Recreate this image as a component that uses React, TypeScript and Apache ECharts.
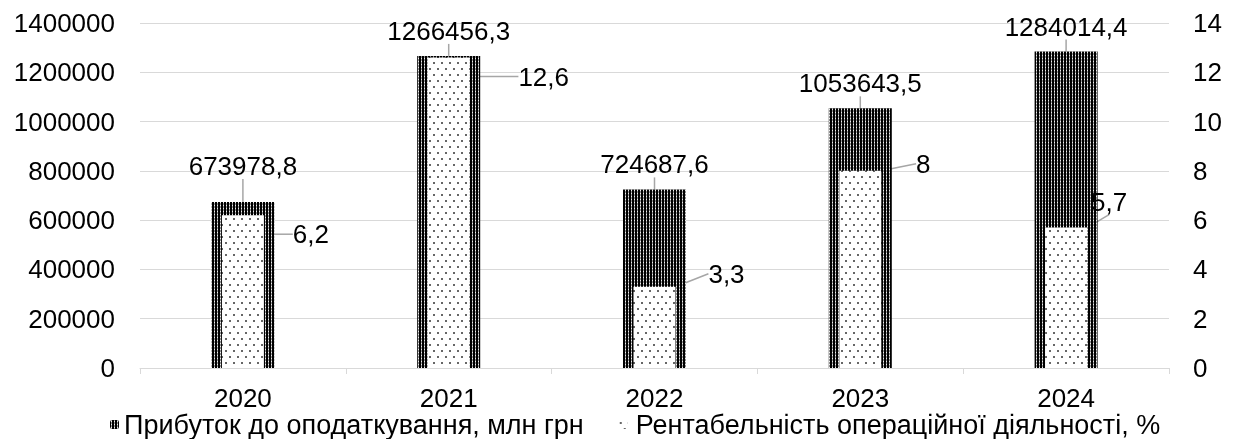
import React, { useEffect, useRef } from "react";
import * as echarts from "echarts";

const categories = ["2020", "2021", "2022", "2023", "2024"];
const profit = [673978.8, 1266456.3, 724687.6, 1053643.5, 1284014.4];
const profitability = [6.2, 12.6, 3.3, 8, 5.7];
const profitLabels = ["673978,8", "1266456,3", "724687,6", "1053643,5", "1284014,4"];
const profitabilityLabels = ["6,2", "12,6", "3,3", "8", "5,7"];
const leftTicks = [0, 200000, 400000, 600000, 800000, 1000000, 1200000, 1400000];
const rightTicks = [0, 2, 4, 6, 8, 10, 12, 14];

const profitName = "Прибуток до оподаткування, млн грн";
const profitabilityName = "Рентабельність операційної діяльності, %";

// label offsets (pixels) for the manually placed labels
const pctOffsets = [
  [68, 32],
  [95, 32],
  [72, 0],
  [63, 6],
  [43, -13],
];
const profitOffsets = [-11, 0, 0, 0, 0];

function makeDarkPattern(): HTMLCanvasElement {
  const c = document.createElement("canvas");
  c.width = 3;
  c.height = 3;
  const ctx = c.getContext("2d")!;
  ctx.fillStyle = "#000";
  ctx.fillRect(0, 0, 3, 3);
  ctx.fillStyle = "#f0f0f0";
  ctx.fillRect(1, 1, 1, 1);
  ctx.fillStyle = "#909090";
  ctx.fillRect(1, 0, 1, 1);
  ctx.fillRect(1, 2, 1, 1);
  return c;
}

function makeDotPattern(): HTMLCanvasElement {
  const c = document.createElement("canvas");
  c.width = 8;
  c.height = 12;
  const ctx = c.getContext("2d")!;
  ctx.fillStyle = "#fff";
  ctx.fillRect(0, 0, 8, 12);
  ctx.fillStyle = "#666";
  ctx.fillRect(1, 2, 2, 2);
  ctx.fillRect(5, 8, 2, 2);
  return c;
}

export default function App() {
  const ref = useRef<HTMLDivElement>(null);

  useEffect(() => {
    if (!ref.current) return;
    const chart = echarts.init(ref.current, undefined, { renderer: "svg" });
    const dark = { image: makeDarkPattern(), repeat: "repeat" as const };
    const dots = { image: makeDotPattern(), repeat: "repeat" as const };
    const font = "'Liberation Sans', Arial, sans-serif";
    const fs = 26;

    chart.setOption({
      animation: false,
      textStyle: { fontFamily: font },
      grid: { left: 140, right: 64, top: 23, bottom: 71 },
      legend: {
        top: 411,
        left: 110,
        padding: 0,
        itemWidth: 9,
        itemHeight: 9,
        itemGap: 35,
        textStyle: { fontSize: 27, lineHeight: 18, color: "#000", fontFamily: font },
        data: [
          { name: profitName, textStyle: { padding: [0, 0, 0, 0] } },
          { name: profitabilityName, textStyle: { padding: [0, 0, 0, 3] } },
        ],
      },
      xAxis: [
        {
          type: "category",
          data: categories,
          axisLine: { lineStyle: { color: "#d9d9d9", width: 1 } },
          axisTick: { show: true, length: 6, lineStyle: { color: "#d9d9d9" } },
          axisLabel: { fontSize: fs, lineHeight: 18, color: "#000", margin: 21 },
        },
        {
          type: "category",
          data: categories,
          show: false,
        },
      ],
      yAxis: [
        {
          type: "value",
          min: 0,
          max: leftTicks[leftTicks.length - 1],
          interval: 200000,
          axisLine: { show: false },
          axisTick: { show: false },
          splitLine: { lineStyle: { color: "#d9d9d9", width: 1 } },
          axisLabel: { fontSize: fs, color: "#000", margin: 25, formatter: (v: number) => String(v) },
        },
        {
          type: "value",
          min: 0,
          max: rightTicks[rightTicks.length - 1],
          interval: 2,
          axisLine: { show: false },
          axisTick: { show: false },
          splitLine: { show: false },
          axisLabel: { fontSize: fs, color: "#000", margin: 24, align: "left" },
        },
      ],
      series: [
        {
          name: profitName,
          type: "bar",
          xAxisIndex: 0,
          yAxisIndex: 0,
          barWidth: 63,
          data: profit,
          itemStyle: { color: dark },
          label: {
            show: true,
            position: "top",
            distance: 12,
            fontSize: fs,
            color: "#000",
            formatter: (p: any) => profitLabels[p.dataIndex],
          },
          labelLine: { show: true, lineStyle: { color: "#a6a6a6", width: 1.5 } },
          labelLayout: (p: any) => ({ dy: profitOffsets[p.dataIndex] }),
        },
        {
          name: profitabilityName,
          type: "bar",
          xAxisIndex: 1,
          yAxisIndex: 1,
          barWidth: 42,
          data: profitability,
          itemStyle: { color: dots },
          label: {
            show: true,
            position: "top",
            distance: 0,
            fontSize: fs,
            color: "#000",
            formatter: (p: any) => profitabilityLabels[p.dataIndex],
          },
          labelLine: { show: true, lineStyle: { color: "#a6a6a6", width: 1.5 } },
          labelLayout: (p: any) => ({
            dx: pctOffsets[p.dataIndex][0],
            dy: pctOffsets[p.dataIndex][1],
          }),
        },
      ],
    });

    return () => chart.dispose();
  }, []);

  return (
    <div
      ref={ref}
      style={{ position: "fixed", left: 0, top: 0, width: 1233, height: 439 }}
    />
  );
}
